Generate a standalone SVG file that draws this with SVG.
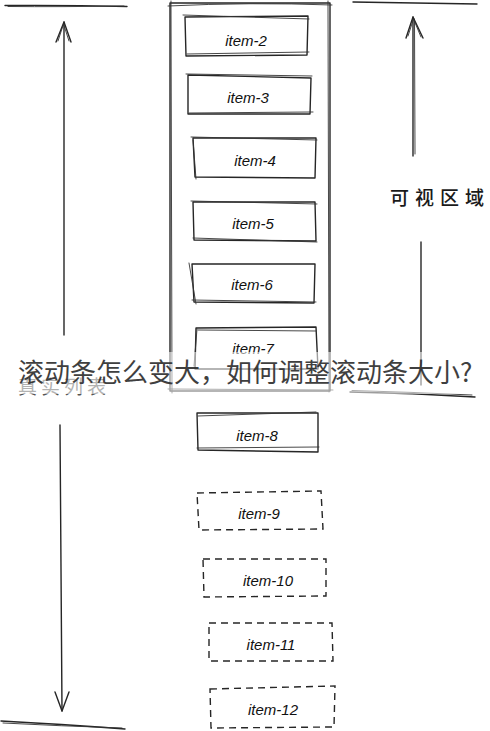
<svg xmlns="http://www.w3.org/2000/svg" width="490" height="731" viewBox="0 0 490 731">
<style>
.ln{fill:none;stroke:#262626;stroke-width:1.4;stroke-linecap:round;stroke-linejoin:round}
.thin{fill:none;stroke:#333;stroke-width:0.9;stroke-linecap:round}
.dash{fill:none;stroke:#262626;stroke-width:1.4;stroke-dasharray:7 5}
.it{font-family:"Liberation Sans",Arial,sans-serif;font-style:italic;font-size:15px;fill:#111;text-anchor:middle}
.cn{font-family:"Noto Sans CJK SC",sans-serif}
</style>
<rect width="490" height="731" fill="#fff"/>
<g id="connectors">
  <path class="ln" d="M5 5.5 Q65 5 127 6.5"/>
  <path class="thin" d="M8 6.5 Q60 7 124 6"/>
  <path class="ln" d="M64 335 L64 22"/>
  <path class="ln" d="M56 42 L64 22 L71 42"/>
  <path class="thin" d="M58 41 L63.5 24 L69 41"/>
  <path class="ln" d="M60 425 L62 711"/>
  <path class="ln" d="M55 692 L62 711 L69 692"/>
  <path class="ln" d="M1 721 Q60 724 125 729"/>
  <path class="thin" d="M3 723 Q60 726 122 728"/>
  <path class="ln" d="M353 2 Q415 3 477 4"/>
  <path class="ln" d="M413 156 L413 17"/>
  <path class="thin" d="M415 154 L414.5 19"/>
  <path class="ln" d="M406 38 L413 17 L423 38"/>
  <path class="thin" d="M408 36 L413.5 19 L421 37"/>
  <path class="ln" d="M421 242 L421 385"/>
  <path class="ln" d="M350 392 Q412 393 475 397"/>
  <path class="thin" d="M352 390.5 Q410 392 472 395"/>
</g>
<g id="frame">
  <path class="ln" d="M170 3 L330 3 L330 391 L170 391 Z"/>
  <path class="thin" d="M168 6 Q250 2 332 5 M171 1 L172 393 M328 1 L329 392 M168 389 L333 390"/>
</g>
<g id="item-2">
  <path class="ln" d="M185 17 L308 16 L307 55 L186 56 Z"/>
  <path class="thin" d="M183 15 L309 19 M187 54 L309 52"/>
  <text class="it" x="246" y="46">item-2</text>
</g>
<g id="item-3">
  <path class="ln" d="M188 75 L311 78 L310 114 L188 114 Z"/>
  <path class="thin" d="M186 74 L312 76 M189 113 L313 112"/>
  <text class="it" x="248" y="103">item-3</text>
</g>
<g id="item-4">
  <path class="ln" d="M193 138 L316 138 L315 178 L195 177 Z"/>
  <path class="thin" d="M193 140 L196 179 M191 137 L317 140"/>
  <text class="it" x="255" y="166">item-4</text>
</g>
<g id="item-5">
  <path class="ln" d="M193 202 L315 202 L316 241 L194 240 Z"/>
  <path class="thin" d="M191 201 L317 204 M193 238 L317 242"/>
  <text class="it" x="253" y="229">item-5</text>
</g>
<g id="item-6">
  <path class="ln" d="M192 264 L315 264 L314 303 L194 302 Z"/>
  <path class="thin" d="M189 263 L196 304 M192 300 L316 302"/>
  <text class="it" x="252" y="290">item-6</text>
</g>
<g id="item-7">
  <path class="ln" d="M196 328 L316 327 L318 369 L195 369 Z"/>
  <path class="thin" d="M198 330 L316 331 M194 366 L197 329"/>
  <text class="it" x="253" y="354">item-7</text>
</g>
<g id="item-8">
  <path class="ln" d="M197 413 L318 413 L318 452 L198 450 Z"/>
  <path class="thin" d="M198 416 L316 412 M197 448 L319 447"/>
  <text class="it" x="257" y="441">item-8</text>
</g>
<g id="item-9">
  <path class="dash" d="M197 493 L321 491 L323 529 L199 530 Z"/>
  <text class="it" x="259" y="519">item-9</text>
</g>
<g id="item-10">
  <path class="dash" d="M203 559 L326 559 L326 596 L204 597 Z"/>
  <text class="it" x="268" y="586">item-10</text>
</g>
<g id="item-11">
  <path class="dash" d="M209 623 L332 623 L333 661 L209 661 Z"/>
  <text class="it" x="271" y="650">item-11</text>
</g>
<g id="item-12">
  <path class="dash" d="M210 689 L335 686 L334 727 L211 728 Z"/>
  <text class="it" x="273" y="715">item-12</text>
</g>
<g id="label-visible">
  <text class="cn" x="390" y="205" font-size="19" font-weight="500" letter-spacing="6" fill="#1a1a1a">可视区域</text>
</g>
<g id="label-list">
  <text class="cn" x="18" y="394" font-size="19" letter-spacing="4" fill="#555">真实列表</text>
</g>
<g id="watermark">
  <rect x="0" y="352" width="490" height="42" fill="#fff" opacity="0.55"/>
  <text class="cn" x="18" y="382" font-size="26" fill="#2b2b2b" opacity="0.9">滚动条怎么变大，如何调整滚动条大小?</text>
</g>
</svg>
